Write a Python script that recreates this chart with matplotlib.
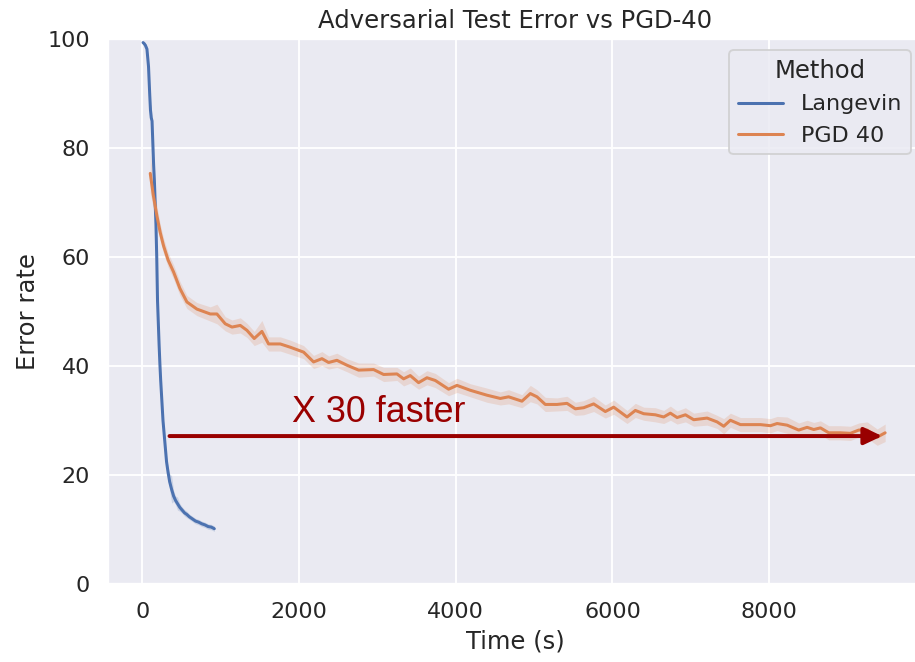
import matplotlib
matplotlib.use("Agg")
import matplotlib.pyplot as plt
import seaborn as sns
import numpy as np

# ---- data ----
methods = ["Langevin", "PGD 40"]

lang_time = [10, 25, 40, 60, 80, 95, 105, 115, 125, 135, 145, 155, 165, 175, 185, 195,
             205, 215, 225, 235, 245, 255, 265, 280, 295, 310, 330, 350, 375, 400, 425,
             450, 480, 510, 540, 570, 600, 640, 680, 720, 760, 800, 840, 880, 920]
lang_err = [99.4, 99.2, 98.9, 98.2, 95.0, 90.0, 87.0, 85.6, 85.0, 81.0, 77.0, 74.0, 70.0,
            66.0, 60.0, 52.0, 48.0, 44.0, 40.5, 37.5, 35.0, 32.5, 30.0, 27.5, 25.0, 22.5,
            20.5, 18.8, 17.4, 16.2, 15.4, 14.8, 14.1, 13.6, 13.1, 12.8, 12.4, 12.0, 11.6,
            11.4, 11.1, 10.9, 10.6, 10.5, 10.2]
lang_ci = [0.3, 0.3, 0.4, 0.5, 0.8, 1.0, 1.2, 2.0, 1.0, 0.8, 0.8, 0.8, 0.8, 0.8, 0.8, 0.8,
           0.8, 0.8, 0.8, 0.8, 0.8, 0.8, 0.8, 0.8, 0.8, 0.8, 1.0, 1.5, 2.5, 1.0, 0.8, 1.2,
           0.7, 0.6, 0.6, 0.6, 0.5, 0.5, 0.5, 0.5, 0.5, 0.5, 0.5, 0.5, 0.5]

pgd_time = [102, 140, 187, 230, 272, 330, 400, 480, 570, 697, 868, 953, 1059, 1145, 1251,
            1336, 1429, 1527, 1612, 1761, 1889, 2059, 2186, 2293, 2378, 2484, 2612, 2761,
            2952, 3080, 3250, 3335, 3420, 3526, 3633, 3739, 3909, 4016, 4186, 4398, 4569,
            4675, 4845, 4952, 5037, 5143, 5292, 5420, 5526, 5633, 5760, 5909, 6016, 6186,
            6292, 6399, 6548, 6654, 6739, 6825, 6931, 7037, 7208, 7335, 7420, 7505, 7633,
            7888, 8016, 8101, 8229, 8377, 8484, 8569, 8654, 8760, 8909, 9037, 9143, 9250,
            9378, 9480]
pgd_err = [75.4, 71.5, 67.6, 64.5, 62.1, 59.5, 57.3, 54.3, 51.8, 50.5, 49.6, 49.6, 47.8,
           47.2, 47.5, 46.6, 45.1, 46.4, 44.1, 44.1, 43.5, 42.6, 40.8, 41.4, 40.7, 41.1,
           40.2, 39.3, 39.4, 38.5, 38.6, 37.7, 38.3, 37.0, 37.9, 37.4, 35.8, 36.5, 35.6,
           34.7, 34.1, 34.4, 33.6, 35.0, 34.4, 33.0, 33.0, 33.2, 32.2, 32.4, 33.1, 31.7,
           32.5, 30.7, 31.9, 31.3, 31.1, 30.7, 31.4, 30.6, 31.1, 30.2, 30.5, 29.8, 29.0,
           30.1, 29.3, 29.3, 29.1, 29.5, 29.2, 28.3, 28.8, 28.4, 28.7, 27.8, 27.8, 27.7,
           28.3, 28.3, 27.0, 27.8]
pgd_ci = [3.5, 2.5, 1.8, 1.5, 1.4, 1.3, 1.3, 1.3, 1.2, 1.2, 1.3, 1.8, 1.3, 1.3, 1.4, 1.3,
          1.3, 2.0, 1.3, 1.3, 1.3, 1.2, 1.2, 1.3, 1.2, 1.3, 1.2, 1.3, 1.2, 1.3, 1.2, 1.3,
          1.4, 1.2, 1.3, 1.3, 1.2, 1.3, 1.2, 1.3, 1.2, 1.3, 1.2, 1.5, 1.3, 1.3, 1.2, 1.3,
          1.2, 1.3, 1.4, 1.2, 1.3, 1.2, 1.3, 1.2, 1.3, 1.2, 1.3, 1.2, 1.3, 1.2, 1.3, 1.2,
          1.4, 1.3, 1.3, 1.3, 1.3, 1.3, 1.5, 1.3, 1.3, 1.3, 1.3, 1.3, 1.3, 1.3, 1.3, 1.5,
          1.5, 1.6]

# ---- plot ----
sns.set_theme(style="darkgrid", context="notebook", font_scale=1.07)
plt.rcParams["font.family"] = ["DejaVu Sans"]
DPI = 136
fig = plt.figure(figsize=(915 / DPI, 662 / DPI), dpi=DPI)
ax = fig.add_axes([108 / 915, 1 - 584.3 / 662, (922 - 108) / 915, (584.3 - 39.3) / 662])

colors = sns.color_palette("deep")
series = [(lang_time, lang_err, lang_ci), (pgd_time, pgd_err, pgd_ci)]
for name, (t, e, c), col in zip(methods, series, colors):
    t = np.asarray(t, float)
    e = np.asarray(e, float)
    c = np.asarray(c, float)
    ax.fill_between(t, e - c, e + c, color=col, alpha=0.2, linewidth=0)
    ax.plot(t, e, color=col, lw=1.6, label=name)

ax.set_xlim(-437, 9950)
ax.set_ylim(0, 100)
ax.set_xticks([0, 2000, 4000, 6000, 8000])
ax.set_yticks([0, 20, 40, 60, 80, 100])
ax.set_xlabel("Time (s)")
ax.set_ylabel("Error rate")
ax.set_title("Adversarial Test Error vs PGD-40")

ax.legend(title="Method", loc="upper right")

arrow_col = "#990000"
ax.annotate("", xy=(9441, 27.2), xytext=(348, 27.2),
            arrowprops=dict(arrowstyle="-|>,head_length=0.4,head_width=0.19",
                            lw=2.1, color=arrow_col, shrinkA=0, shrinkB=0,
                            mutation_scale=20))
ax.text(1909, 29.7, "X 30 faster", color=arrow_col, fontsize=19,
        family="Liberation Sans", ha="left", va="baseline")

fig.savefig("out.png", dpi=DPI)
